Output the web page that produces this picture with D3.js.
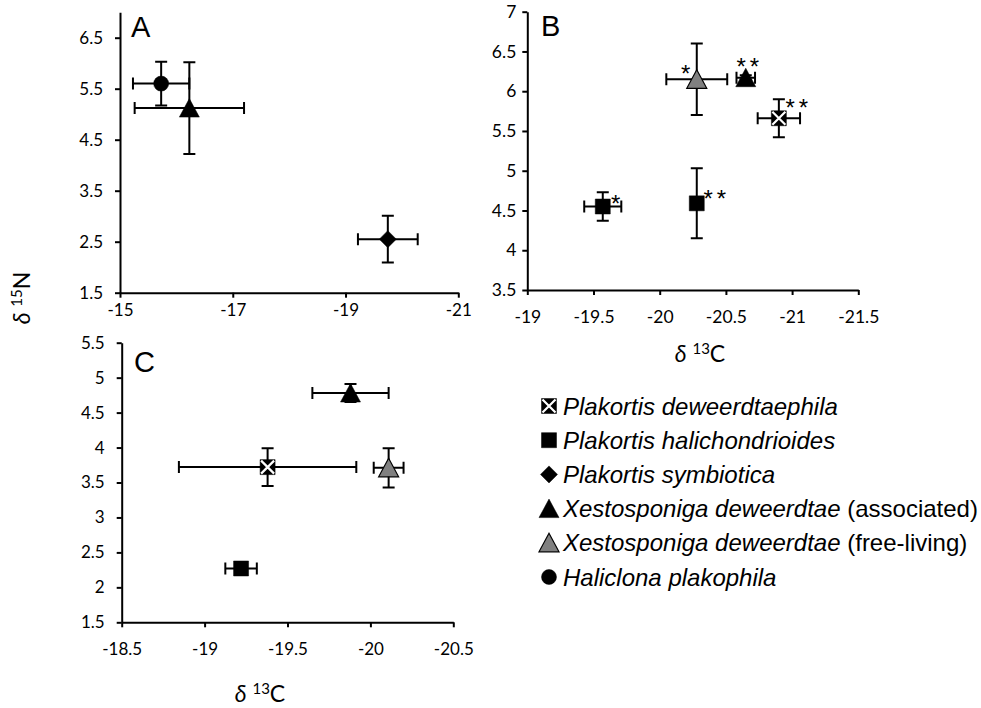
<!DOCTYPE html>
<html>
<head>
<meta charset="utf-8">
<script src="https://cdn.jsdelivr.net/npm/d3@7"></script>
<style>
  body { margin: 0; background: #fff; }
  svg { display: block; }
  .tick text { font-family: Lato, "Open Sans", sans-serif; fill: #000; }
</style>
</head>
<body>
<div id="viz"></div>
<script>
// legend entries, in order
const species = ["deweerdtaephila", "halichondrioides", "symbiotica", "xestoAssoc", "xestoFree", "haliclona"];
const speciesName = ["Plakortis deweerdtaephila", "Plakortis halichondrioides", "Plakortis symbiotica",
  "Xestosponiga deweerdtae", "Xestosponiga deweerdtae", "Haliclona plakophila"];
const speciesNote = ["", "", "", "(associated)", "(free-living)", ""];

// panel A
const aSpecies = ["haliclona", "xestoAssoc", "symbiotica"];
const aC = [-15.73, -16.23, -19.75];
const aN = [5.60, 5.12, 2.55];
const aSdC = [0.50, 0.97, 0.53];
const aSdN = [0.43, 0.90, 0.46];
const aStars = ["", "", ""];
const aXTicks = [-15, -17, -19, -21];
const aYTicks = [1.5, 2.5, 3.5, 4.5, 5.5, 6.5];

// panel B
const bSpecies = ["halichondrioides", "halichondrioides", "xestoFree", "xestoAssoc", "deweerdtaephila"];
const bC = [-19.57, -20.28, -20.28, -20.65, -20.90];
const bN = [4.55, 4.59, 6.15, 6.17, 5.66];
const bSdC = [0.14, 0.02, 0.23, 0.07, 0.16];
const bSdN = [0.18, 0.44, 0.45, 0.03, 0.24];
const bStars = ["*", "**", "*", "**", "**"];
const bXTicks = [-19, -19.5, -20, -20.5, -21, -21.5];
const bYTicks = [3.5, 4, 4.5, 5, 5.5, 6, 6.5, 7];

// panel C
const cSpecies = ["xestoAssoc", "deweerdtaephila", "xestoFree", "halichondrioides"];
const cC = [-19.88, -19.38, -20.11, -19.22];
const cN = [4.78, 3.72, 3.71, 2.27];
const cSdC = [0.23, 0.535, 0.09, 0.095];
const cSdN = [0.13, 0.27, 0.28, 0.03];
const cStars = ["", "", "", ""];
const cXTicks = [-18.5, -19, -19.5, -20, -20.5];
const cYTicks = [1.5, 2, 2.5, 3, 3.5, 4, 4.5, 5, 5.5];

// marker look per species
const shapeOf = {
  deweerdtaephila: "crossed", halichondrioides: "square", symbiotica: "diamond",
  xestoAssoc: "triangle", xestoFree: "triangle", haliclona: "circle"
};
const fillOf = { xestoFree: "#808080" };

// star offsets (px) next to the points of panel B
const starOffset = [[15, -9], [20, -10], [-9, -11], [4, -17], [20, -16]];

const width = 981, height = 708;
const svg = d3.select("#viz").append("svg")
  .attr("width", width).attr("height", height);

function markerPath(shape) {
  if (shape === "circle") return d3.symbol(d3.symbolCircle, Math.PI * 7.5 * 7.5)();
  if (shape === "square" || shape === "crossed") return "M-7.5,-7.5H7.5V7.5H-7.5Z";
  if (shape === "diamond") return "M0,-8.5L8.5,0L0,8.5L-8.5,0Z";
  return "M0,-9.5L10,9L-10,9Z";
}

function drawMarker(g, sp) {
  const shape = shapeOf[sp];
  g.append("path")
    .attr("d", markerPath(shape))
    .attr("fill", fillOf[sp] || "#000")
    .attr("stroke", "#000")
    .attr("stroke-width", fillOf[sp] ? 1.2 : 0.5);
  if (shape === "crossed") {
    g.append("path")
      .attr("d", "M-6.5,-6.5L6.5,6.5M6.5,-6.5L-6.5,6.5")
      .attr("stroke", "#fff")
      .attr("stroke-width", 2.2);
  }
}

function drawPanel(p) {
  const x = d3.scaleLinear().domain(p.xDomain).range(p.xRange);
  const y = d3.scaleLinear().domain(p.yDomain).range(p.yRange);
  const g = svg.append("g");

  // axes
  const xAxis = g.append("g")
    .attr("transform", `translate(0,${p.yRange[0]})`)
    .call(d3.axisBottom(x).tickValues(p.xTicks).tickFormat(String)
      .tickSize(5).tickSizeOuter(0).tickPadding(p.xPad));
  const yAxis = g.append("g")
    .attr("transform", `translate(${p.xRange[0]},0)`)
    .call(d3.axisLeft(y).tickValues(p.yTicks).tickFormat(String)
      .tickSize(5).tickSizeOuter(0).tickPadding(p.yPad));
  [xAxis, yAxis].forEach((a) => {
    a.select(".domain").attr("stroke", "#000").attr("stroke-width", 2);
    a.selectAll(".tick line").attr("stroke", "#000").attr("stroke-width", 2);
    a.selectAll(".tick text").style("font-size", p.tickFont + "px");
  });

  const pts = p.species.map((sp, i) => ({
    sp, c: p.c[i], n: p.n[i], sdC: p.sdC[i], sdN: p.sdN[i], star: p.stars[i], i
  }));

  // error bars
  const cap = 6;
  pts.forEach((d) => {
    const px = x(d.c), py = y(d.n);
    const x1 = x(d.c - d.sdC), x2 = x(d.c + d.sdC);
    const y1 = y(d.n - d.sdN), y2 = y(d.n + d.sdN);
    const path = `M${x1},${py}H${x2}M${x1},${py - cap}V${py + cap}M${x2},${py - cap}V${py + cap}` +
      `M${px},${y1}V${y2}M${px - cap},${y1}H${px + cap}M${px - cap},${y2}H${px + cap}`;
    g.append("path").attr("d", path)
      .attr("fill", "none").attr("stroke", "#000").attr("stroke-width", 2);
  });

  // markers
  pts.forEach((d) => {
    const m = g.append("g").attr("transform", `translate(${x(d.c)},${y(d.n)})`);
    drawMarker(m, d.sp);
  });

  // significance stars
  pts.filter((d) => d.star).forEach((d) => {
    const [dx, dy] = starOffset[d.i];
    g.append("text")
      .attr("x", x(d.c) + dx)
      .attr("y", y(d.n) + dy + 14)
      .attr("text-anchor", "middle")
      .style("font-family", "'Liberation Sans', Arial, sans-serif")
      .style("font-size", "24px")
      .style("letter-spacing", "4px")
      .text(d.star);
  });

  // panel letter
  svg.append("text")
    .attr("x", p.letterPos[0]).attr("y", p.letterPos[1])
    .style("font-family", "'Liberation Sans', Arial, sans-serif")
    .style("font-size", "29px")
    .text(p.letter);
}

drawPanel({
  letter: "A", letterPos: [131, 37],
  species: aSpecies, c: aC, n: aN, sdC: aSdC, sdN: aSdN, stars: aStars,
  xTicks: aXTicks, yTicks: aYTicks,
  xDomain: [-15, -21], yDomain: [1.5, 7],
  xRange: [120, 458.3], yRange: [292.7, 12.2],
  xPad: 6, yPad: 12, tickFont: 17
});
drawPanel({
  letter: "B", letterPos: [541, 36],
  species: bSpecies, c: bC, n: bN, sdC: bSdC, sdN: bSdN, stars: bStars,
  xTicks: bXTicks, yTicks: bYTicks,
  xDomain: [-19, -21.5], yDomain: [3.5, 7],
  xRange: [527.3, 858.3], yRange: [290, 11.7],
  xPad: 16, yPad: 6, tickFont: 17.5
});
drawPanel({
  letter: "C", letterPos: [134, 372],
  species: cSpecies, c: cC, n: cN, sdC: cSdC, sdN: cSdN, stars: cStars,
  xTicks: cXTicks, yTicks: cYTicks,
  xDomain: [-18.5, -20.5], yDomain: [1.5, 5.5],
  xRange: [121.7, 453.3], yRange: [622.3, 342.7],
  xPad: 16, yPad: 12, tickFont: 17
});

// axis titles
function deltaTitle(sel, iso, el) {
  sel.style("font-family", "Lato, sans-serif").style("font-size", "23px");
  sel.append("tspan").style("font-style", "italic").text("δ");
  sel.append("tspan").text(" ");
  sel.append("tspan").attr("dy", -8).style("font-size", "15px").text(iso);
  sel.append("tspan").attr("dy", 8).text(el);
}
deltaTitle(svg.append("text")
  .attr("transform", "translate(30,298) rotate(-90)")
  .attr("text-anchor", "middle"), "15", "N");
deltaTitle(svg.append("text")
  .attr("x", 700).attr("y", 362).attr("text-anchor", "middle"), "13", "C");
deltaTitle(svg.append("text")
  .attr("x", 260).attr("y", 702).attr("text-anchor", "middle"), "13", "C");

// legend
const legendY = d3.scalePoint().domain(species).range([406, 577]);
species.forEach((sp, i) => {
  const row = svg.append("g").attr("transform", `translate(0,${legendY(sp)})`);
  drawMarker(row.append("g").attr("transform", "translate(549,0)"), sp);
  const t = row.append("text")
    .attr("x", 563).attr("dy", "0.36em")
    .style("font-family", "'Liberation Sans', Arial, sans-serif")
    .style("font-size", "24px");
  t.append("tspan").style("font-style", "italic").text(speciesName[i]);
  if (speciesNote[i]) t.append("tspan").text(" " + speciesNote[i]);
});
</script>
</body>
</html>
